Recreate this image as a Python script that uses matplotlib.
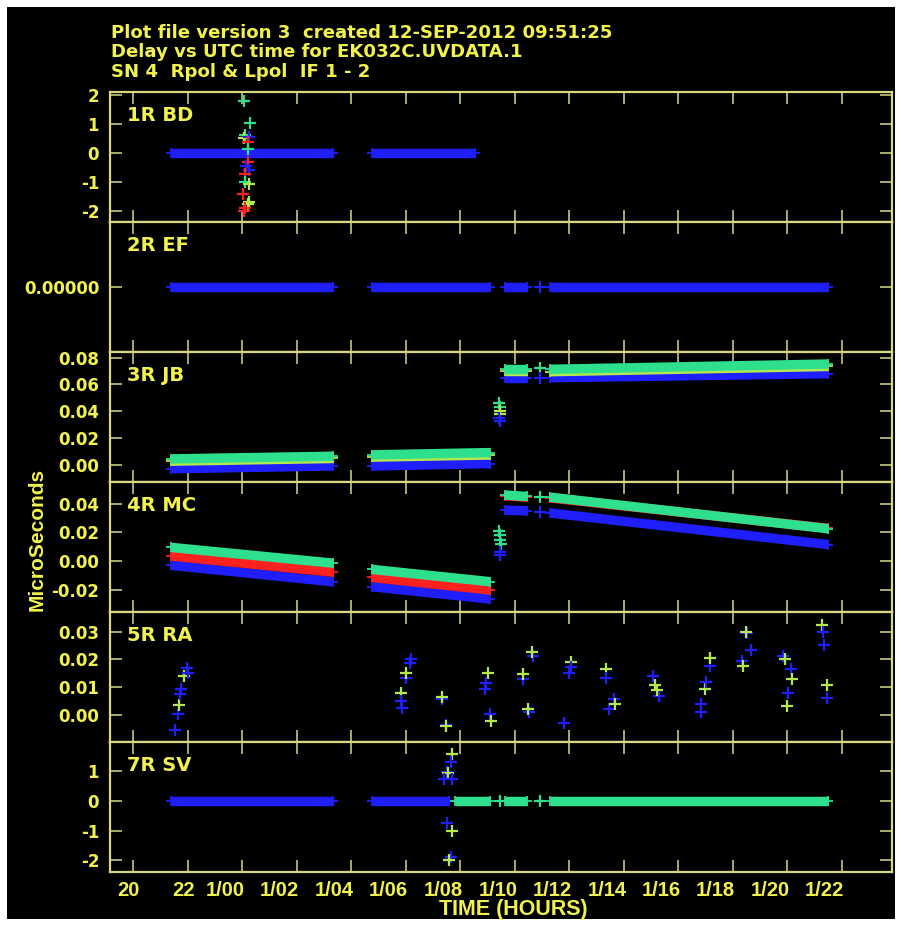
import matplotlib
matplotlib.use("Agg")
import matplotlib.pyplot as plt
from matplotlib.patches import Rectangle
from matplotlib.transforms import ScaledTranslation, blended_transform_factory

# ---------------- data (time in hours UT, delay in microseconds) ----------------
title_lines = ["Plot file version 3  created 12-SEP-2012 09:51:25",
               "Delay vs UTC time for EK032C.UVDATA.1",
               "SN 4  Rpol & Lpol  IF 1 - 2"]
panel_names = ["1R BD", "2R EF", "3R JB", "4R MC", "5R RA", "7R SV"]

xtick_hours = [20, 22, 24, 26, 28, 30, 32, 34, 36, 38, 40, 42, 44, 46]
xtick_labels = ["20", "22", "1/00", "1/02", "1/04", "1/06", "1/08", "1/10",
                "1/12", "1/14", "1/16", "1/18", "1/20", "1/22"]

scans = [[21.4, 27.35], [28.75, 33.1], [33.65, 34.45], [35.3, 45.5]]

# 1R BD
bd_band_t = [[21.4, 27.35], [28.75, 32.55]]
bd_band_v = [[0.0, 0.0], [0.0, 0.0]]
bd_pts_t = [24.05, 24.3, 24.1, 24.08, 24.25, 24.2, 24.22, 24.2, 24.15, 24.25,
            24.1, 24.1, 24.25, 24.02, 24.25, 24.2, 24.05, 24.12]
bd_pts_v = [1.78, 1.02, 0.62, 0.50, 0.55, 0.38, 0.12, -0.33, -0.45, -0.60,
            -0.72, -1.02, -1.08, -1.42, -1.68, -1.75, -2.00, -1.90]
bd_pts_c = ["t", "t", "t", "l", "b", "r", "t", "r", "b", "b",
            "r", "t", "l", "r", "l", "l", "r", "r"]

# 2R EF
ef_band_v = [[0.0, 0.0], [0.0, 0.0], [0.0, 0.0], [0.0, 0.0]]
ef_pts_t = [34.93]
ef_pts_v = [0.0]
ef_pts_c = ["b"]

# 3R JB
jb_blue_v = [[-0.0028, -0.0008], [-0.0008, 0.0010], [0.0645, 0.0645], [0.0650, 0.0680]]
jb_lime_v = [[0.0028, 0.0048], [0.0058, 0.0074], [0.0700, 0.0700], [0.0695, 0.0734]]
jb_teal_v = [[0.0045, 0.0065], [0.0075, 0.0092], [0.0717, 0.0717], [0.0713, 0.0752]]
jb_pts_t = [33.44, 33.46, 33.45, 33.47, 33.43, 33.45, 34.93, 34.93]
jb_pts_v = [0.046, 0.043, 0.040, 0.038, 0.035, 0.033, 0.0720, 0.0650]
jb_pts_c = ["t", "t", "l", "l", "b", "b", "t", "b"]

# 4R MC
mc_blue_v = [[-0.0030, -0.0145], [-0.0179, -0.0265], [0.0355, 0.0350], [0.0335, 0.0115]]
mc_red_v = [[0.0035, -0.0078], [-0.0114, -0.0202], [0.0455, 0.0445], [0.0440, 0.0228]]
mc_teal_v = [[0.0095, -0.0015], [-0.0058, -0.0144], [0.0460, 0.0450], [0.0445, 0.0225]]
mc_pts_t = [33.42, 33.45, 33.46, 33.48, 33.45, 33.47, 34.93, 34.93]
mc_pts_v = [0.021, 0.018, 0.015, 0.012, 0.0065, 0.004, 0.0445, 0.034]
mc_pts_c = ["t", "t", "t", "t", "b", "b", "t", "b"]

# 5R RA
ra_pts_t = [21.55, 21.63, 21.68, 21.70, 21.77, 21.87, 21.96, 22.0,
            29.82, 29.83, 29.85, 30.01, 30.0, 30.14, 30.18,
            31.32, 31.33, 31.47, 31.49,
            32.91, 33.01, 32.95, 33.10, 33.12,
            34.32, 34.30, 34.51, 34.49, 34.66, 34.63,
            35.82, 36.0, 36.05, 36.07,
            37.35, 37.33, 37.46, 37.65, 37.67,
            39.06, 39.15, 39.28, 39.22,
            40.83, 40.85, 40.97, 41.0, 41.15, 41.18,
            42.33, 42.36, 42.52, 42.50, 42.65,
            43.83, 43.90, 44.15, 44.17, 44.02, 43.98,
            45.27, 45.30, 45.36, 45.46, 45.46]
ra_pts_v = [-0.0052, 0.0004, 0.0036, 0.0075, 0.0095, 0.0140, 0.0170, 0.0150,
            0.0078, 0.0051, 0.0027, 0.0134, 0.0150, 0.0188, 0.0200,
            0.0057, 0.0065, -0.0036, -0.0040,
            0.0093, 0.0150, 0.0116, 0.0004, -0.0020,
            0.0130, 0.0148, 0.0010, 0.0022, 0.0211, 0.0225,
            -0.0028, 0.0152, 0.0190, 0.0173,
            0.0164, 0.0134, 0.0021, 0.0057, 0.0040,
            0.0140, 0.0110, 0.0069, 0.0090,
            0.0010, 0.0040, 0.0093, 0.0120, 0.0176, 0.0205,
            0.0193, 0.0175, 0.0294, 0.0300, 0.0235,
            0.0211, 0.0200, 0.0164, 0.0130, 0.0081, 0.0033,
            0.0324, 0.0300, 0.0253, 0.0107, 0.0063]
ra_pts_c = ["b", "b", "l", "b", "b", "l", "b", "b",
            "l", "b", "b", "b", "l", "b", "b",
            "b", "l", "b", "l",
            "b", "l", "b", "b", "l",
            "b", "l", "b", "l", "b", "l",
            "b", "b", "l", "b",
            "l", "b", "b", "b", "l",
            "b", "l", "b", "l",
            "b", "b", "l", "b", "b", "l",
            "b", "l", "b", "l", "b",
            "b", "l", "b", "l", "b", "l",
            "l", "b", "b", "l", "b"]

# 7R SV
sv_band_t = [[21.4, 27.35], [28.75, 31.6], [31.8, 33.1], [33.65, 34.45], [35.3, 45.5]]
sv_band_v = [[0.0, 0.0], [0.0, 0.0], [0.0, 0.0], [0.0, 0.0], [0.0, 0.0]]
sv_band_c = ["b", "b", "t", "t", "t"]
sv_pts_t = [31.7, 31.65, 31.5, 31.55, 31.42, 31.7, 31.5, 31.7, 31.65, 31.6, 33.45, 34.93]
sv_pts_v = [1.6, 1.32, 0.99, 0.93, 0.76, 0.76, -0.75, -1.0, -1.88, -2.0, 0.0, 0.0]
sv_pts_c = ["l", "b", "b", "l", "b", "b", "b", "l", "b", "l", "t", "t"]

ylims = [(-2.37, 2.1), (-1.0, 1.0), (-0.0125, 0.0844),
         (-0.0353, 0.0553), (-0.0095, 0.0371), (-2.38, 2.0)]
yticks = [[-2, -1, 0, 1, 2], [0.0], [0.0, 0.02, 0.04, 0.06, 0.08],
          [-0.02, 0.0, 0.02, 0.04], [0.0, 0.01, 0.02, 0.03], [-2, -1, 0, 1]]
ytick_labels = [["-2", "-1", "0", "1", "2"], ["0.00000"],
                ["0.00", "0.02", "0.04", "0.06", "0.08"],
                ["-0.02", "0.00", "0.02", "0.04"],
                ["0.00", "0.01", "0.02", "0.03"], ["-2", "-1", "0", "1"]]

# ---------------- style ----------------
COL = {"b": "#1e1eff", "r": "#ff2020", "t": "#2ee08e", "l": "#b4e84c"}
TXT = "#f2f24e"
FRAME = "#d8d884"
BAND_LW = 6.8
MS = 7.5
MEW = 1.3
W, H = 901, 926


def band(ax, t, v, c):
    ax.plot(t, v, color=COL[c], lw=BAND_LW, solid_capstyle="butt",
            marker="+", ms=MS, mew=MEW)


def points(ax, t, v, cs):
    for t_, v_, c_ in zip(t, v, cs):
        ax.plot(t_, v_, "+", color=COL[c_], ms=MS + 0.5, mew=MEW + 0.3)


fig = plt.figure(figsize=(W / 100, H / 100), dpi=100, facecolor="white")
fig.patches.append(Rectangle((7 / W, 7 / H), (895 - 7) / W, (919 - 7) / H,
                             transform=fig.transFigure, facecolor="black",
                             edgecolor="none", zorder=-10))

# title block
for i, line in enumerate(title_lines):
    fig.text(111 / W, 1 - [37.5, 57.0, 77.0][i] / H, line, color=TXT,
             fontsize=13.1, fontweight="bold", family="DejaVu Sans",
             ha="left", va="baseline")

left, right = 110, 891.7
axes = []
for i in range(6):
    top = 91.7 + i * 130
    ax = fig.add_axes([left / W, 1 - (top + 130) / H, (right - left) / W, 130 / H])
    ax.set_facecolor("black")
    ax.set_xlim(19.15, 47.83)
    ax.set_ylim(*ylims[i])
    ax.set_xticks(xtick_hours)
    ax.set_yticks(yticks[i])
    ax.set_yticklabels(ytick_labels[i])
    ax.tick_params(direction="in", length=8.6, width=1.1, color=FRAME,
                   top=True, right=True, labelbottom=False,
                   labelcolor=TXT, labelsize=12, pad=7.8)
    for lab in ax.get_yticklabels():
        lab.set_fontweight("bold")
        lab.set_family("DejaVu Sans")
    for sp in ax.spines.values():
        sp.set_color(FRAME)
        sp.set_linewidth(1.6)
    ax.text((127 - left) / (right - left), 1 - 23.5 / 130, panel_names[i],
            transform=ax.transAxes, color=TXT, fontsize=14, fontweight="bold",
            family="DejaVu Sans", ha="left", va="center")
    axes.append(ax)

ax_bd, ax_ef, ax_jb, ax_mc, ax_ra, ax_sv = axes

for t, v in zip(bd_band_t, bd_band_v):
    band(ax_bd, t, v, "b")
points(ax_bd, bd_pts_t, bd_pts_v, bd_pts_c)

for t, v in zip(scans, ef_band_v):
    band(ax_ef, t, v, "b")
points(ax_ef, ef_pts_t, ef_pts_v, ef_pts_c)

for t, vb, vl, vt in zip(scans, jb_blue_v, jb_lime_v, jb_teal_v):
    band(ax_jb, t, vb, "b")
    band(ax_jb, t, vl, "l")
    band(ax_jb, t, vt, "t")
points(ax_jb, jb_pts_t, jb_pts_v, jb_pts_c)

for t, vb, vr, vt in zip(scans, mc_blue_v, mc_red_v, mc_teal_v):
    band(ax_mc, t, vb, "b")
    band(ax_mc, t, vr, "r")
    band(ax_mc, t, vt, "t")
points(ax_mc, mc_pts_t, mc_pts_v, mc_pts_c)

points(ax_ra, ra_pts_t, ra_pts_v, ra_pts_c)

for t, v, c in zip(sv_band_t, sv_band_v, sv_band_c):
    band(ax_sv, t, v, c)
points(ax_sv, sv_pts_t, sv_pts_v, sv_pts_c)

# bottom time labels, shifted the way the AIPS page does it
trans = blended_transform_factory(ax_sv.transData, ax_sv.transAxes)
for hr, lab in zip(xtick_hours, xtick_labels):
    dx = -17 if "/" in lab else -4.5
    ax_sv.text(hr, 0, lab, color=TXT, fontsize=14.5, fontweight="bold",
               family="Liberation Sans", ha="center", va="top",
               transform=trans + ScaledTranslation(dx / 100, -9.5 / 100,
                                                   fig.dpi_scale_trans))

fig.text(513 / W, 1 - 910 / H, "TIME (HOURS)", color=TXT, fontsize=15.5,
         fontweight="bold", family="Liberation Sans", ha="center", va="center")
fig.text(37 / W, 1 - 539 / H, "MicroSeconds", color=TXT, fontsize=15,
         fontweight="bold", family="Liberation Sans", rotation=90,
         ha="center", va="center")

fig.savefig("out.png", dpi=100, facecolor=fig.get_facecolor())
